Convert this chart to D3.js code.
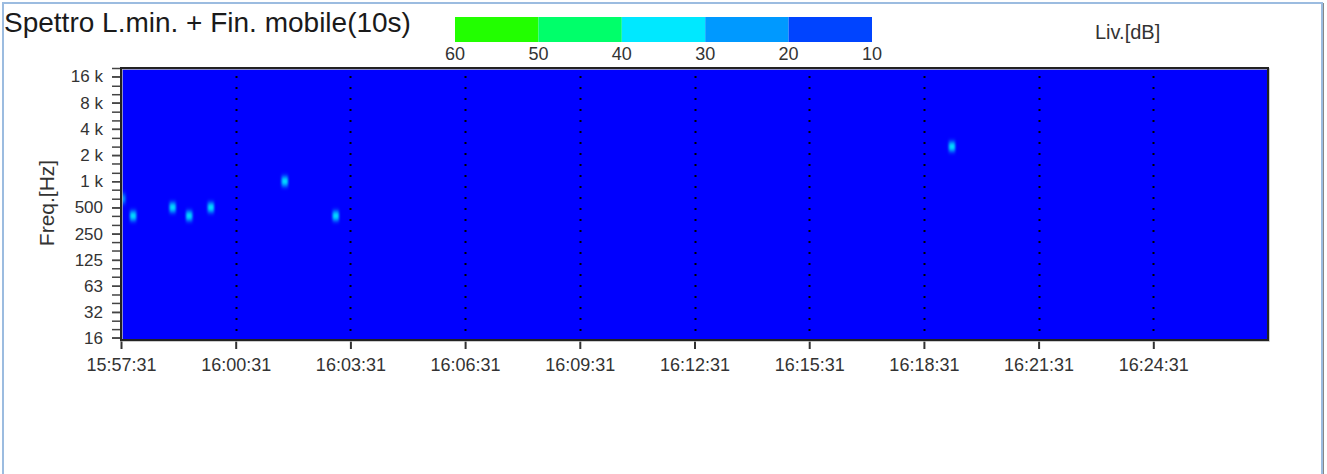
<!DOCTYPE html>
<html>
<head>
<meta charset="utf-8">
<script src="https://cdn.jsdelivr.net/npm/d3@7"></script>
<style>
  html, body { margin: 0; padding: 0; background: #fff; }
  svg { display: block; font-family: "Liberation Sans", Arial, sans-serif; }
</style>
</head>
<body>
<svg id="chart" width="1327" height="474"></svg>
<script>
// ---- data ----
const timeStart = "15:57:31";
const timeEnd = "16:27:31";
const timeTickLabels = ["15:57:31", "16:00:31", "16:03:31", "16:06:31", "16:09:31",
                        "16:12:31", "16:15:31", "16:18:31", "16:21:31", "16:24:31"];

// third-octave band centre frequencies (Hz)
const bandCentres = [16, 20, 25, 31.5, 40, 50, 63, 80, 100, 125, 160, 200, 250, 315, 400,
                     500, 630, 800, 1000, 1250, 1600, 2000, 2500, 3150, 4000, 5000, 6300,
                     8000, 10000, 12500, 16000, 20000];
const freqTickValues = [16, 31.5, 63, 125, 250, 500, 1000, 2000, 4000, 8000, 16000];
const freqTickLabels = ["16", "32", "63", "125", "250", "500", "1 k", "2 k", "4 k", "8 k", "16 k"];

// level classes of the colour bar (dB)
const levelThresholds = [10, 20, 30, 40, 50];
const levelColours = ["#0000ff", "#0044ff", "#0099ff", "#00e8ff", "#00ff6a", "#22ff00"];
const legendTicks = [60, 50, 40, 30, 20, 10];

// background level of the minimum spectrum (dB) and the few louder cells
const floorLevel = 5;
const cellStart = ["15:57:28", "15:57:45", "15:58:47", "15:59:13", "15:59:47", "16:01:43", "16:03:03", "16:19:10"];
const cellBand  = [630, 400, 500, 400, 500, 1000, 400, 2500];
const cellLevel = [26, 30, 34, 33, 34, 34, 32, 36];
const cellSeconds = 10;

// ---- layout ----
const svg = d3.select("#chart");
const plot = { left: 121, right: 1268, top: 68, bottom: 340 };
const parse = d3.timeParse("%H:%M:%S");
const fmt = d3.timeFormat("%H:%M:%S");

const x = d3.scaleTime()
  .domain([parse(timeStart), parse(timeEnd)])
  .range([plot.left, plot.right]);
const y = d3.scaleLog()
  .domain([15, 20000])
  .range([plot.bottom, plot.top]);
const colour = d3.scaleThreshold().domain(levelThresholds).range(levelColours);

const defs = svg.append("defs");
defs.append("clipPath").attr("id", "plotClip")
  .append("rect")
  .attr("x", plot.left).attr("y", plot.top)
  .attr("width", plot.right - plot.left).attr("height", plot.bottom - plot.top);
defs.append("filter").attr("id", "soft")
  .attr("x", "-50%").attr("y", "-80%").attr("width", "200%").attr("height", "260%")
  .append("feGaussianBlur").attr("stdDeviation", "1.1 2.4");

// ---- title & legend ----
svg.append("text")
  .attr("x", 4).attr("y", 32)
  .attr("font-size", 28).attr("fill", "#1a1a1a")
  .text("Spettro L.min. + Fin. mobile(10s)");

const lg = d3.scaleLinear().domain([60, 10]).range([455, 872]);
const legendSegs = d3.pairs(legendTicks); // [60,50], [50,40] ...
svg.append("g").selectAll("rect")
  .data(legendSegs)
  .join("rect")
  .attr("x", d => lg(d[0]))
  .attr("y", 17)
  .attr("width", d => lg(d[1]) - lg(d[0]))
  .attr("height", 25)
  .attr("fill", d => colour((d[0] + d[1]) / 2));
svg.append("g").selectAll("text")
  .data(legendTicks)
  .join("text")
  .attr("x", d => lg(d))
  .attr("y", 60)
  .attr("text-anchor", "middle")
  .attr("font-size", 18).attr("fill", "#333")
  .text(d => d);

svg.append("text")
  .attr("x", 1095).attr("y", 39)
  .attr("font-size", 20).attr("fill", "#333")
  .text("Liv.[dB]");

// ---- spectrogram ----
const body = svg.append("g").attr("clip-path", "url(#plotClip)");
body.append("rect")
  .attr("x", plot.left).attr("y", plot.top)
  .attr("width", plot.right - plot.left).attr("height", plot.bottom - plot.top)
  .attr("fill", colour(floorLevel));

const cells = cellStart.map((t, i) => ({
  t0: parse(t),
  t1: new Date(parse(t).getTime() + cellSeconds * 1000),
  band: cellBand[i],
  level: cellLevel[i]
}));
const half = Math.pow(2, 1 / 6);
body.append("g").attr("filter", "url(#soft)")
  .selectAll("rect")
  .data(cells)
  .join("rect")
  .attr("x", d => x(d.t0))
  .attr("width", d => x(d.t1) - x(d.t0))
  .attr("y", d => y(d.band * half))
  .attr("height", d => y(d.band / half) - y(d.band * half))
  .attr("fill", d => colour(d.level));

// dotted vertical grid at the time ticks
body.append("g").selectAll("line")
  .data(timeTickLabels.slice(1).map(parse))
  .join("line")
  .attr("x1", d => Math.round(x(d)) + 0.5).attr("x2", d => Math.round(x(d)) + 0.5)
  .attr("y1", plot.top).attr("y2", plot.bottom)
  .attr("stroke", "#000").attr("stroke-width", 2)
  .attr("stroke-dasharray", "2,9").attr("stroke-dashoffset", 3);

// ---- axes ----
const xAxis = d3.axisBottom(x)
  .tickValues(timeTickLabels.map(parse))
  .tickFormat(fmt)
  .tickSize(9).tickPadding(9);
const gx = svg.append("g")
  .attr("transform", `translate(0,${plot.bottom})`)
  .call(xAxis);
gx.select(".domain").remove();
gx.selectAll(".tick line").attr("stroke", "#333").attr("stroke-width", 2);
gx.selectAll(".tick text").attr("font-size", 18).attr("fill", "#333")
  .attr("font-family", "Liberation Sans, Arial, sans-serif");

const yMinor = d3.axisLeft(y).tickValues(bandCentres).tickFormat("").tickSize(9);
const gyMinor = svg.append("g").attr("transform", `translate(${plot.left},0)`).call(yMinor);
gyMinor.select(".domain").remove();
gyMinor.selectAll(".tick line").attr("stroke", "#444").attr("stroke-width", 1.5);

const yAxis = d3.axisLeft(y)
  .tickValues(freqTickValues)
  .tickFormat((d, i) => freqTickLabels[i])
  .tickSize(9).tickPadding(9);
const gy = svg.append("g").attr("transform", `translate(${plot.left},0)`).call(yAxis);
gy.select(".domain").remove();
gy.selectAll(".tick line").attr("stroke", "#444").attr("stroke-width", 1.5);
gy.selectAll(".tick text").attr("font-size", 17).attr("fill", "#333")
  .attr("font-family", "Liberation Sans, Arial, sans-serif");

svg.append("text")
  .attr("transform", "translate(46,203) rotate(-90)")
  .attr("text-anchor", "middle").attr("dominant-baseline", "central")
  .attr("font-size", 21).attr("fill", "#333")
  .text("Freq.[Hz]");

// plot frame
svg.append("rect")
  .attr("x", plot.left + 1).attr("y", plot.top + 1)
  .attr("width", plot.right - plot.left).attr("height", plot.bottom - plot.top)
  .attr("fill", "none").attr("stroke", "#bbb").attr("stroke-width", 1.5);
svg.append("rect")
  .attr("x", plot.left).attr("y", plot.top)
  .attr("width", plot.right - plot.left).attr("height", plot.bottom - plot.top)
  .attr("fill", "none").attr("stroke", "#222").attr("stroke-width", 2);

// outer panel border
svg.append("rect")
  .attr("x", 3).attr("y", 3).attr("width", 1319).attr("height", 520)
  .attr("fill", "none").attr("stroke", "#9cbce0").attr("stroke-width", 2);
svg.append("line")
  .attr("x1", 1323.5).attr("x2", 1323.5).attr("y1", 3).attr("y2", 474)
  .attr("stroke", "#888").attr("stroke-width", 1);
</script>
</body>
</html>
